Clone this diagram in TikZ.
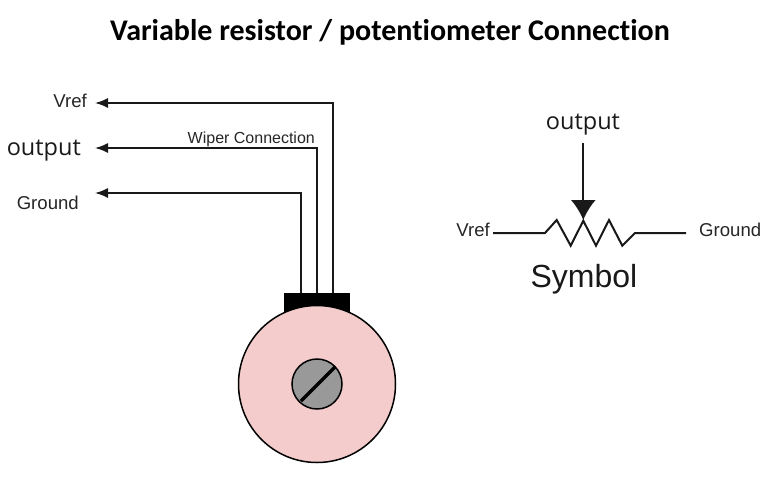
\documentclass[tikz,border=0pt]{standalone}
\usepackage{fontspec}
\setmainfont{Liberation Sans}
\newfontfamily\titlefont[Ligatures=NoCommon]{Carlito}
\newfontfamily\outfont{Open Sans}
\usetikzlibrary{arrows.meta}
\tikzset{
  wire/.style={line width=1.6pt,draw=black!90},
  lead/.style={wire,-{Latex[length=13pt,width=10pt]}},
  lbl/.style={inner sep=0pt,font=\fontsize{18.6}{20}\selectfont,text=black!85},
  outlbl/.style={inner sep=0pt,font=\outfont\fontsize{23.5}{26}\selectfont,text=black!90},
}
\definecolor{bodypink}{HTML}{F4CCCC}
\definecolor{knobgrey}{HTML}{999999}
\begin{document}
\begin{tikzpicture}[x=1pt,y=-1pt]
\useasboundingbox[fill=white] (0,0) rectangle (777,480);
\node[inner sep=0pt,font=\titlefont\bfseries\fontsize{30}{32}\selectfont] (title) at (390,32.5) {Variable resistor / potentiometer Connection};
% potentiometer
\node[fill=black,minimum width=66pt,minimum height=22pt,inner sep=0pt] (block) at (317,304) {};
\node[circle,draw=black,line width=1.5pt,fill=bodypink,minimum size=157pt,inner sep=0pt] (body) at (317,384) {};
\node[circle,draw=black,line width=1.5pt,fill=knobgrey,minimum size=50pt,inner sep=0pt] (knob) at (317,384) {};
\coordinate (slotA) at (301,401);
\coordinate (slotB) at (335,367);
\draw[line width=3.2pt,black] (slotA) -- (slotB);
% wires
\coordinate (pinV) at (333,293);
\coordinate (pinW) at (317,293);
\coordinate (pinG) at (301,293);
\coordinate (cornerV) at (333,103);
\coordinate (cornerW) at (317,148);
\coordinate (cornerG) at (301,193);
\coordinate (endV) at (95,103);
\coordinate (endW) at (95,148);
\coordinate (endG) at (95,193);
\draw[lead] (pinV) -- (cornerV) -- (endV);
\draw[lead] (pinW) -- (cornerW) -- (endW);
\draw[lead] (pinG) -- (cornerG) -- (endG);
\node[lbl,anchor=east] (vref) at (87,100.5) {Vref};
\node[outlbl,anchor=east] (out) at (81,151) {output};
\node[lbl,anchor=east] (gnd) at (79,202.5) {Ground};
\node[lbl,anchor=base west,font=\fontsize{16}{18}\selectfont] (wiper) at (187.5,143) {Wiper Connection};
% symbol
\node[outlbl] (out2) at (583,125) {output};
\node[lbl,anchor=east] (vref2) at (490,229.5) {Vref};
\node[lbl,anchor=west] (gnd2) at (699,229.5) {Ground};
\node[inner sep=0pt,font=\fontsize{32}{34}\selectfont,text=black!90] (sym) at (584,279) {Symbol};
\coordinate (rL) at (493,233);
\coordinate (rR) at (686,233);
\coordinate (wipeTop) at (583.3,143);
\coordinate (wipeTip) at (583.3,220);
\draw[wire,line width=2pt,line join=miter] (rL) -- (545,233) -- (556.7,220) -- (570.7,245.7) -- (583.3,220.7) -- (596,245.7) -- (609,220) -- (622.3,245.7) -- (635,233) -- (rR);
\draw[wire,line width=2pt,-{Latex[length=20pt,width=25pt]}] (wipeTop) -- (wipeTip);
\end{tikzpicture}
\end{document}
